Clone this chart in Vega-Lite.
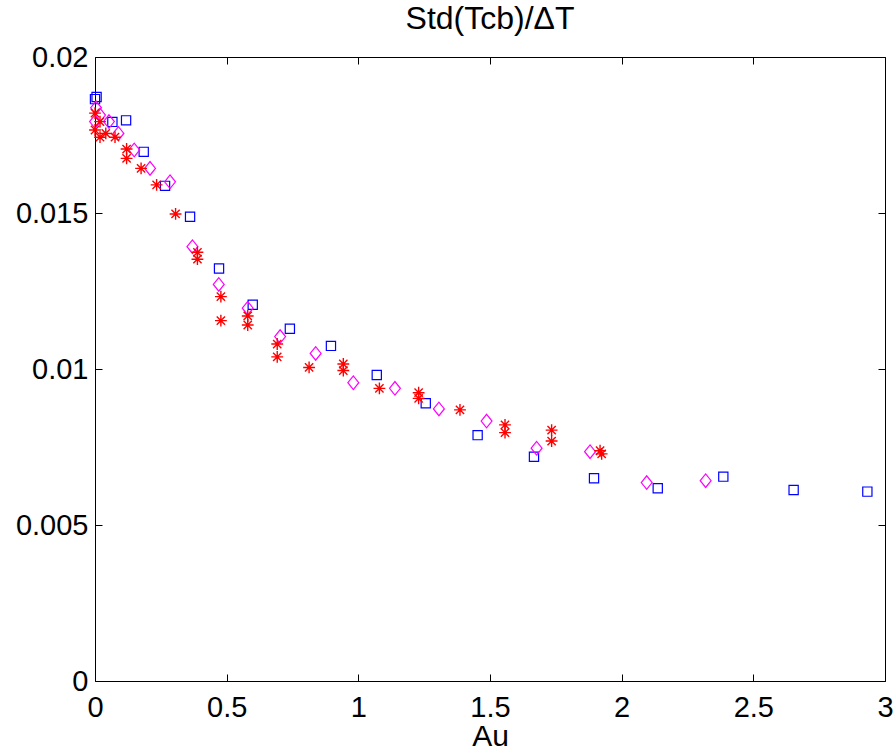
{
  "$schema": "https://vega.github.io/schema/vega-lite/v6.json",
  "width": 790,
  "height": 624,
  "autosize": {"type": "none"},
  "padding": {"left": 95, "top": 57, "right": 11, "bottom": 72},
  "background": "white",
  "title": {"text": "Std(Tcb)/ΔT", "fontSize": 32, "font": "Liberation Sans", "fontWeight": "normal", "anchor": "middle", "baseline": "alphabetic", "offset": -18, "color": "black", "frame": "group"},
  "config": {
    "view": {"stroke": "black", "strokeWidth": 1},
    "axis": {"grid": false, "domain": false, "tickColor": "black", "tickSize": -7, "tickWidth": 1, "labelFlush": false, "labelFont": "Liberation Sans", "labelFontSize": 29, "labelColor": "black", "titleFont": "Liberation Sans", "titleFontSize": 30, "titleFontWeight": "normal", "titleColor": "black"}
  },
  "datasets": {
    "sq": [
      {"au": 0.0, "v": 0.01865}, {"au": 0.006, "v": 0.01872}, {"au": 0.066, "v": 0.01792}, {"au": 0.118, "v": 0.01797},
      {"au": 0.185, "v": 0.01696}, {"au": 0.266, "v": 0.01587}, {"au": 0.361, "v": 0.01488}, {"au": 0.471, "v": 0.01322},
      {"au": 0.599, "v": 0.01206}, {"au": 0.740, "v": 0.01129}, {"au": 0.896, "v": 0.01074}, {"au": 1.070, "v": 0.00981},
      {"au": 1.256, "v": 0.00890}, {"au": 1.453, "v": 0.00788}, {"au": 1.667, "v": 0.00719}, {"au": 1.895, "v": 0.00650},
      {"au": 2.137, "v": 0.00618}, {"au": 2.386, "v": 0.00655}, {"au": 2.653, "v": 0.00612}, {"au": 2.933, "v": 0.00607}
    ],
    "di": [
      {"au": 0.004, "v": 0.01837}, {"au": 0.019, "v": 0.01814}, {"au": 0.0, "v": 0.01793}, {"au": 0.053, "v": 0.01793},
      {"au": 0.089, "v": 0.01755}, {"au": 0.149, "v": 0.01702}, {"au": 0.209, "v": 0.01643}, {"au": 0.285, "v": 0.01600},
      {"au": 0.370, "v": 0.01392}, {"au": 0.470, "v": 0.01271}, {"au": 0.580, "v": 0.01195}, {"au": 0.703, "v": 0.01104},
      {"au": 0.838, "v": 0.01050}, {"au": 0.981, "v": 0.00956}, {"au": 1.139, "v": 0.00938}, {"au": 1.306, "v": 0.00872},
      {"au": 1.487, "v": 0.00833}, {"au": 1.677, "v": 0.00746}, {"au": 1.880, "v": 0.00735}, {"au": 2.095, "v": 0.00636},
      {"au": 2.319, "v": 0.00642}
    ],
    "st": [
      {"au": 0.0, "v": 0.01820}, {"au": 0.0, "v": 0.01766}, {"au": 0.019, "v": 0.01793}, {"au": 0.019, "v": 0.01743},
      {"au": 0.041, "v": 0.01755}, {"au": 0.076, "v": 0.01743}, {"au": 0.120, "v": 0.01705}, {"au": 0.120, "v": 0.01675},
      {"au": 0.175, "v": 0.01643}, {"au": 0.234, "v": 0.01590}, {"au": 0.306, "v": 0.01497}, {"au": 0.389, "v": 0.01374},
      {"au": 0.389, "v": 0.01352}, {"au": 0.478, "v": 0.01232}, {"au": 0.478, "v": 0.01155}, {"au": 0.580, "v": 0.01170},
      {"au": 0.580, "v": 0.01141}, {"au": 0.692, "v": 0.01080}, {"au": 0.692, "v": 0.01039}, {"au": 0.813, "v": 0.01005},
      {"au": 0.943, "v": 0.01016}, {"au": 0.943, "v": 0.00995}, {"au": 1.080, "v": 0.00938}, {"au": 1.229, "v": 0.00924},
      {"au": 1.229, "v": 0.00906}, {"au": 1.386, "v": 0.00869}, {"au": 1.557, "v": 0.00821}, {"au": 1.557, "v": 0.00796},
      {"au": 1.734, "v": 0.00804}, {"au": 1.734, "v": 0.00769}, {"au": 1.918, "v": 0.00738}, {"au": 1.924, "v": 0.00728}
    ]
  },
  "layer": [
    {
      "layer": [
        {
          "data": {"name": "sq"},
          "mark": {"type": "point", "shape": "square", "filled": false, "stroke": "#0000ff", "strokeWidth": 1.2, "size": 85, "opacity": 1},
          "encoding": {
            "x": {"field": "au", "type": "quantitative", "scale": {"domain": [0, 3], "nice": false, "zero": false},
                  "axis": {"title": "Au", "values": [0, 0.5, 1, 1.5, 2, 2.5, 3], "labelExpr": "'' + datum.value", "labelPadding": 19, "titlePadding": -1}},
            "y": {"field": "v", "type": "quantitative", "scale": {"domain": [0, 0.02], "nice": false, "zero": false},
                  "axis": {"title": null, "values": [0, 0.005, 0.01, 0.015, 0.02], "labelExpr": "'' + datum.value", "labelPadding": 14}}
          }
        },
        {
          "data": {"name": "di"},
          "mark": {"type": "point", "shape": "M-0.8,0L0,-1L0.8,0L0,1Z", "filled": false, "stroke": "#ff00ff", "strokeWidth": 1.2, "size": 185, "opacity": 1},
          "encoding": {
            "x": {"field": "au", "type": "quantitative"},
            "y": {"field": "v", "type": "quantitative"}
          }
        },
        {
          "data": {"name": "st"},
          "mark": {"type": "point", "shape": "M-1,0L1,0M0,-1L0,1M-0.7,-0.7L0.7,0.7M-0.7,0.7L0.7,-0.7", "filled": false, "stroke": "#ff0000", "strokeWidth": 1.4, "size": 140, "opacity": 1},
          "encoding": {
            "x": {"field": "au", "type": "quantitative"},
            "y": {"field": "v", "type": "quantitative"}
          }
        }
      ]
    },
    {
      "data": {"name": "sq"},
      "mark": {"type": "point", "opacity": 0},
      "encoding": {
        "x": {"field": "au", "type": "quantitative", "scale": {"domain": [0, 3], "nice": false, "zero": false},
              "axis": {"orient": "top", "title": null, "labels": false, "values": [0, 0.5, 1, 1.5, 2, 2.5, 3]}},
        "y": {"field": "v", "type": "quantitative", "scale": {"domain": [0, 0.02], "nice": false, "zero": false},
              "axis": {"orient": "right", "title": null, "labels": false, "values": [0, 0.005, 0.01, 0.015, 0.02]}}
      }
    }
  ],
  "resolve": {"scale": {"x": "independent", "y": "independent"}}
}
